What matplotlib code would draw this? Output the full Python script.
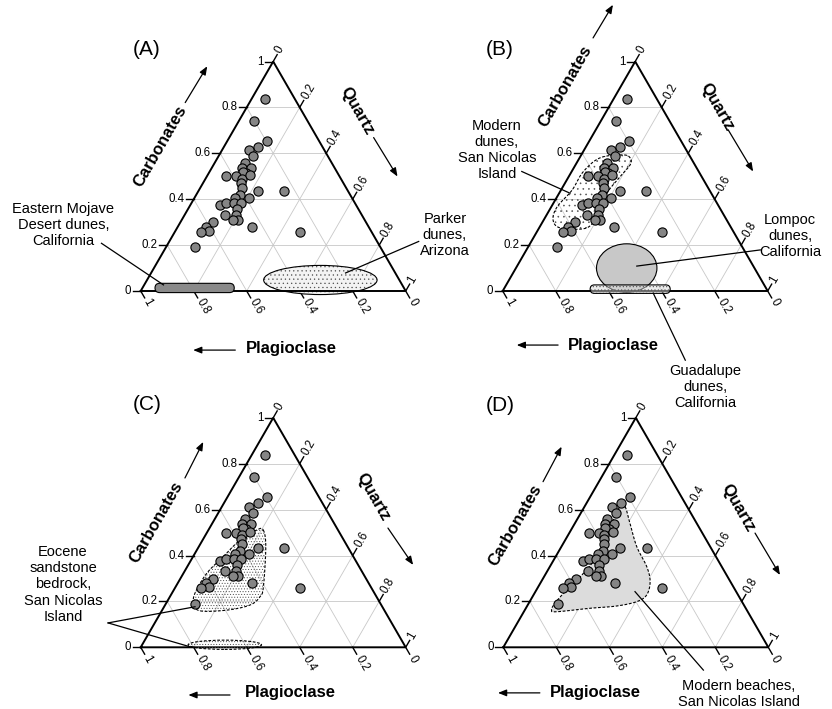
import numpy as np
import matplotlib.pyplot as plt
from matplotlib.patches import Ellipse, Polygon, FancyBboxPatch

plt.rcParams['font.family'] = ['Liberation Sans', 'DejaVu Sans']
plt.rcParams['hatch.linewidth'] = 0.4

H = np.sqrt(3) / 2

# tick values on every side of the ternary plot
ticks = [0, 0.2, 0.4, 0.6, 0.8, 1]
tick_labels = ['0', '0.2', '0.4', '0.6', '0.8', '1']

# samples (fractions; plagioclase = 1 - carbonates - quartz)
carb = [0.837, 0.740, 0.655, 0.628, 0.613, 0.587, 0.558, 0.536, 0.536, 0.514,
        0.520, 0.499, 0.499, 0.489, 0.504, 0.470, 0.449, 0.434, 0.434, 0.419,
        0.405, 0.405, 0.376, 0.383, 0.383, 0.383, 0.358, 0.332, 0.332, 0.310,
        0.310, 0.299, 0.278, 0.262, 0.257, 0.278, 0.257, 0.190]
quartz = [0.049, 0.056, 0.149, 0.129, 0.104, 0.132, 0.113, 0.114, 0.148, 0.141,
          0.125, 0.073, 0.111, 0.137, 0.162, 0.145, 0.157, 0.224, 0.325, 0.166,
          0.208, 0.155, 0.112, 0.131, 0.159, 0.187, 0.184, 0.153, 0.195, 0.214,
          0.195, 0.125, 0.108, 0.125, 0.098, 0.281, 0.471, 0.111]

# composition fields (carbonates, quartz)
mojave_quartz = (0.054, 0.353)
guadalupe_quartz = (0.330, 0.632)
parker_center = (0.048, 0.654)
lompoc_center = (0.100, 0.418)
eocene_low_center = (0.011, 0.312)
dunes_carb = [0.579, 0.593, 0.580, 0.519, 0.440, 0.366, 0.310, 0.275, 0.271, 0.297, 0.353, 0.427, 0.498, 0.550]
dunes_qtz = [0.192, 0.158, 0.077, 0.044, 0.042, 0.022, 0.035, 0.079, 0.168, 0.193, 0.202, 0.181, 0.194, 0.206]
eocene_carb = [0.511, 0.438, 0.264, 0.220, 0.184, 0.162, 0.159, 0.192, 0.235, 0.322, 0.395, 0.467, 0.511]
eocene_qtz = [0.207, 0.253, 0.331, 0.340, 0.320, 0.244, 0.144, 0.105, 0.087, 0.088, 0.114, 0.141, 0.182]
beach_carb = [0.613, 0.540, 0.439, 0.351, 0.286, 0.228, 0.199, 0.180, 0.170, 0.155, 0.162, 0.192,
              0.250, 0.322, 0.395, 0.467, 0.555, 0.613]
beach_qtz = [0.153, 0.208, 0.284, 0.366, 0.411, 0.427, 0.404, 0.338, 0.242, 0.124, 0.101, 0.099,
             0.114, 0.141, 0.155, 0.150, 0.138, 0.134]


def tern(c, q):
    c = np.asarray(c, dtype=float)
    q = np.asarray(q, dtype=float)
    return q + c / 2, c * H


def smooth_closed(x, y, n=16):
    P = np.column_stack([x, y])
    N = len(P)
    t = np.linspace(0, 1, n, endpoint=False)[:, None]
    out = []
    for i in range(N):
        p0, p1, p2, p3 = P[i - 1], P[i], P[(i + 1) % N], P[(i + 2) % N]
        out.append(0.5 * (2 * p1 + (-p0 + p2) * t + (2 * p0 - 5 * p1 + 4 * p2 - p3) * t ** 2
                          + (-p0 + 3 * p1 - 3 * p2 + p3) * t ** 3))
    return np.vstack(out)


def make_axes(fig, x0, y0):
    # x0, y0: pixel position of the lower left corner of the triangle
    w = 265
    ax = fig.add_axes([x0 / 832, (709 - y0) / 709, w / 832, w * H / 709])
    ax.set_xlim(0, 1)
    ax.set_ylim(0, H)
    ax.axis('off')
    return ax


def arrow(ax, start, end):
    ax.annotate('', xy=end, xytext=start, annotation_clip=False,
                arrowprops=dict(arrowstyle='-|>,head_length=0.5,head_width=0.2', color='k',
                                lw=0.9, mutation_scale=10, shrinkA=0, shrinkB=0))


def frame(ax, letter, letter_xy, carb_xy, carb_arr, qtz_xy, qtz_arr, plag_xy, plag_arr):
    for v in ticks[1:-1]:
        ax.plot([v / 2, 1 - v / 2], [v * H, v * H], color='#c8c8c8', lw=0.6, zorder=1)
        ax.plot([v, v + (1 - v) / 2], [0, (1 - v) * H], color='#c8c8c8', lw=0.6, zorder=1)
        ax.plot([1 - v, (1 - v) / 2], [0, (1 - v) * H], color='#c8c8c8', lw=0.6, zorder=1)
    ax.plot([0, 1, 0.5, 0], [0, 0, H, 0], color='k', lw=1.4, zorder=3, clip_on=False,
            solid_joinstyle='miter')

    tl = 0.03
    for v, lab in zip(ticks, tick_labels):
        # carbonates, left side
        px, py = v / 2, v * H
        ax.plot([px, px - tl], [py, py], color='k', lw=1, clip_on=False)
        ax.text(px - tl - 0.006, py, lab, ha='right', va='center', fontsize=8.3)
        # quartz, right side
        px, py = 0.5 + v / 2, (1 - v) * H
        d = np.array([0.5, H])
        ax.plot([px, px + tl * d[0]], [py, py + tl * d[1]], color='k', lw=1, clip_on=False)
        ax.text(px + (tl + 0.008) * d[0], py + (tl + 0.008) * d[1], lab, rotation=60,
                rotation_mode='anchor', ha='left', va='center', fontsize=8.3)
        # plagioclase, bottom
        px, py = 1 - v, 0
        d = np.array([0.5, -H])
        ax.plot([px, px + tl * d[0]], [py, py + tl * d[1]], color='k', lw=1, clip_on=False)
        ax.text(px + (tl + 0.008) * d[0], py + (tl + 0.008) * d[1], lab, rotation=-60,
                rotation_mode='anchor', ha='left', va='center', fontsize=8.3)

    ax.text(*letter_xy, letter, ha='center', va='center', fontsize=15)
    ax.text(*carb_xy, 'Carbonates', rotation=60, ha='center', va='center',
            fontsize=12, fontweight='bold')
    arrow(ax, *carb_arr)
    ax.text(*qtz_xy, 'Quartz', rotation=-60, ha='center', va='center',
            fontsize=12, fontweight='bold')
    arrow(ax, *qtz_arr)
    ax.text(*plag_xy, 'Plagioclase', ha='center', va='center',
            fontsize=12, fontweight='bold')
    arrow(ax, *plag_arr)

    x, y = tern(carb, quartz)
    ax.scatter(x, y, s=44, c='#858585', edgecolors='k', linewidths=0.8, zorder=6, clip_on=False)


def shaded(ax, make, face, hatch=None, dashed=False, z=2):
    fill = make()
    fill.set(facecolor=face, edgecolor='#505050', hatch=hatch, lw=0, zorder=z, clip_on=False)
    ax.add_patch(fill)
    edge = make()
    edge.set(facecolor='none', edgecolor='k', lw=0.8, zorder=z + 0.1, clip_on=False,
             linestyle=(0, (2.5, 1.5)) if dashed else '-')
    ax.add_patch(edge)


def label(ax, xy, txt, line_from, line_to):
    ax.text(*xy, txt, ha='center', va='center', fontsize=10.5, linespacing=1.2)
    ax.plot([line_from[0], line_to[0]], [line_from[1], line_to[1]], color='k', lw=0.9,
            clip_on=False, zorder=7)


fig = plt.figure(figsize=(8.32, 7.09), dpi=100)

# (A)
ax = make_axes(fig, 140.7, 291)
frame(ax, '(A)', (0.024, 0.912), (0.073, 0.546), ((0.168, 0.711), (0.251, 0.848)),
      (0.817, 0.678), ((0.879, 0.579), (0.969, 0.432)),
      (0.568, -0.216), ((0.357, -0.223), (0.198, -0.223)))
q0, q1 = mojave_quartz
shaded(ax, lambda: FancyBboxPatch((q0, -0.006), q1 - q0, 0.035,
                                  boxstyle='round,pad=0,rounding_size=0.0175'),
       '#8a8a8a', z=4)
cx, cy = tern(*parker_center)
shaded(ax, lambda: Ellipse((cx, cy), 0.428, 0.110), '#f3f3f3', hatch='....', z=2)
label(ax, (-0.292, 0.250), 'Eastern Mojave\nDesert dunes,\nCalifornia', (-0.148, 0.180), (0.086, 0.023))
label(ax, (1.148, 0.212), 'Parker\ndunes,\nArizona', (1.049, 0.187), (0.773, 0.068))

# (B)
ax = make_axes(fig, 502.7, 291)
frame(ax, '(B)', (-0.010, 0.910), (0.235, 0.774), ((0.341, 0.955), (0.416, 1.080)),
      (0.808, 0.696), ((0.851, 0.608), (0.945, 0.451)),
      (0.417, -0.204), ((0.209, -0.204), (0.053, -0.204)))
xd, yd = tern(dunes_carb, dunes_qtz)
pts = smooth_closed(xd, yd)
shaded(ax, lambda: Polygon(pts, closed=True), 'none', hatch='...', dashed=True, z=2)
cx, cy = tern(*lompoc_center)
shaded(ax, lambda: Ellipse((cx, cy), 0.228, 0.183), '#c8c8c8', z=2)
q0, q1 = guadalupe_quartz
shaded(ax, lambda: FancyBboxPatch((q0, -0.009), q1 - q0, 0.032,
                                  boxstyle='round,pad=0,rounding_size=0.016'),
       (0.85, 0.85, 0.85, 0.5), hatch='.....', z=4)
label(ax, (-0.022, 0.532), 'Modern\ndunes,\nSan Nicolas\nIsland', (0.072, 0.451), (0.254, 0.369))
label(ax, (1.085, 0.208), 'Lompoc\ndunes,\nCalifornia', (0.972, 0.155), (0.506, 0.094))
label(ax, (0.764, -0.363), 'Guadalupe\ndunes,\nCalifornia', (0.689, -0.261), (0.568, -0.008))

# (C)
ax = make_axes(fig, 140.7, 647.3)
frame(ax, '(C)', (0.024, 0.918), (0.060, 0.473), ((0.167, 0.639), (0.236, 0.775)),
      (0.878, 0.568), ((0.933, 0.450), (1.028, 0.311)),
      (0.566, -0.172), ((0.337, -0.180), (0.180, -0.180)))
xe, ye = tern(eocene_carb, eocene_qtz)
pts_e = smooth_closed(xe, ye)
shaded(ax, lambda: Polygon(pts_e, closed=True), 'none', hatch='......', dashed=True, z=2)
cx, cy = tern(*eocene_low_center)
shaded(ax, lambda: Ellipse((cx, cy), 0.277, 0.035), 'none', hatch='......', dashed=True, z=4)
label(ax, (-0.293, 0.237), 'Eocene\nsandstone\nbedrock,\nSan Nicolas\nIsland', (-0.123, 0.092), (0.205, 0.153))
ax.plot([-0.123, 0.186], [0.092, 0.002], color='k', lw=0.9, clip_on=False, zorder=7)

# (D)
ax = make_axes(fig, 503.3, 647.3)
frame(ax, '(D)', (-0.013, 0.914), (0.047, 0.460), ((0.150, 0.625), (0.220, 0.757)),
      (0.887, 0.525), ((0.950, 0.431), (1.044, 0.273)),
      (0.346, -0.172), ((0.138, -0.172), (-0.020, -0.172)))
xb, yb = tern(beach_carb, beach_qtz)
pts_b = smooth_closed(xb, yb)
shaded(ax, lambda: Polygon(pts_b, closed=True), '#dcdcdc', dashed=True, z=2)
label(ax, (0.889, -0.176), 'Modern beaches,\nSan Nicolas Island', (0.497, 0.210), (0.755, -0.086))

fig.savefig('out.png', dpi=100)
